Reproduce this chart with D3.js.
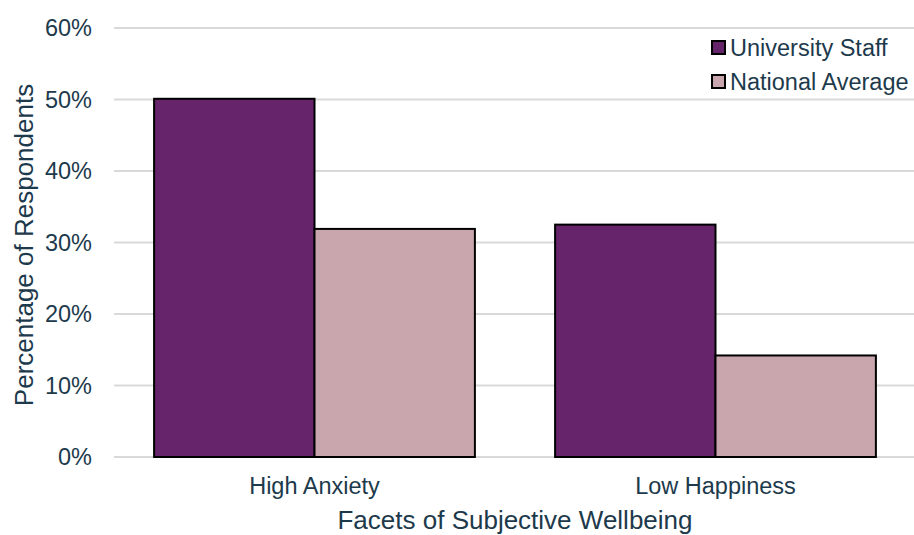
<!DOCTYPE html>
<html>
<head>
<meta charset="utf-8">
<title>Subjective wellbeing</title>
<script src="https://d3js.org/d3.v7.min.js"></script>
<style>
  body { margin: 0; background: #fff; }
  svg text { font-family: "Liberation Sans", Arial, sans-serif; fill: #1d3a4c; }
</style>
</head>
<body>
<svg id="chart" width="914" height="535"></svg>
<script>
// data
const categories = ['High Anxiety', 'Low Happiness'];
const seriesNames = ['University Staff', 'National Average'];
const universityStaff = [50.1, 32.5];
const nationalAverage = [31.9, 14.2];
const yTicks = [0, 10, 20, 30, 40, 50, 60];
const colors = ['#66246a', '#c9a6ae'];

const plotL = 114, plotR = 916, plotT = 28, plotB = 457;

const svg = d3.select('#chart');

const x = d3.scaleBand().domain(categories).range([plotL, plotR])
  .paddingInner(0.2).paddingOuter(0.1);
const xs = d3.scaleBand().domain(seriesNames).range([0, x.bandwidth()]);
const y = d3.scaleLinear().domain([0, 60]).range([plotB, plotT]);

// gridlines
svg.append('g').selectAll('line').data(yTicks).enter().append('line')
  .attr('x1', plotL).attr('x2', plotR)
  .attr('y1', d => y(d)).attr('y2', d => y(d))
  .attr('stroke', '#d9d9d9').attr('stroke-width', 2);

// y tick labels
svg.append('g').selectAll('text').data(yTicks).enter().append('text')
  .attr('x', 92).attr('y', d => y(d)).attr('dy', '0.35em')
  .attr('text-anchor', 'end').style('font-size', '23.5px')
  .text(d => d + '%');

// bars
const rows = categories.map((c, i) => ({cat: c, vals: [universityStaff[i], nationalAverage[i]]}));
const grp = svg.append('g').selectAll('g').data(rows).enter().append('g')
  .attr('transform', d => 'translate(' + x(d.cat) + ',0)');
grp.selectAll('rect').data(d => d.vals.map((v, j) => ({s: seriesNames[j], v: v, j: j})))
  .enter().append('rect')
  .attr('x', d => xs(d.s)).attr('width', xs.bandwidth())
  .attr('y', d => y(d.v)).attr('height', d => y(0) - y(d.v))
  .attr('fill', d => colors[d.j]).attr('stroke', '#000').attr('stroke-width', 2);

// x category labels
svg.append('g').selectAll('text').data(categories).enter().append('text')
  .attr('x', d => x(d) + x.bandwidth() / 2).attr('y', 494)
  .attr('text-anchor', 'middle').style('font-size', '23.5px')
  .text(d => d);

// axis titles
svg.append('text').attr('x', (plotL + plotR) / 2).attr('y', 529)
  .attr('text-anchor', 'middle').style('font-size', '26px')
  .text('Facets of Subjective Wellbeing');
svg.append('text')
  .attr('transform', 'translate(33,' + 245 + ') rotate(-90)')
  .attr('text-anchor', 'middle').style('font-size', '26px')
  .text('Percentage of Respondents');

// legend
const lg = svg.append('g').selectAll('g').data(seriesNames).enter().append('g')
  .attr('transform', (d, i) => 'translate(712,' + (41 + i * 34) + ')');
lg.append('rect').attr('width', 13).attr('height', 13)
  .attr('fill', (d, i) => colors[i]).attr('stroke', '#000').attr('stroke-width', 2);
lg.append('text').attr('x', 18).attr('y', 7).attr('dy', '0.35em')
  .style('font-size', '23.5px').text(d => d);
</script>
</body>
</html>
